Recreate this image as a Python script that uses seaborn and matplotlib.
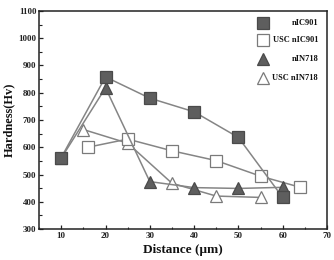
import numpy as np
import pandas as pd
import matplotlib
matplotlib.use("Agg")
import matplotlib.pyplot as plt
from matplotlib.ticker import MultipleLocator
import seaborn as sns

# ---- data ----
series_names = ["nIC901", "USC nIC901", "nIN718", "USC nIN718"]
nic901_x = [10, 20, 30, 40, 50, 60]
nic901_y = [562, 858, 780, 730, 636, 416]
usc_nic901_x = [16, 25, 35, 45, 55, 64]
usc_nic901_y = [600, 630, 587, 551, 494, 453]
nin718_x = [10, 20, 30, 40, 50, 60]
nin718_y = [560, 818, 474, 452, 449, 453]
usc_nin718_x = [15, 25, 35, 45, 55]
usc_nin718_y = [665, 615, 468, 421, 416]
x_ticks = [10, 20, 30, 40, 50, 60, 70]
y_ticks = [300, 400, 500, 600, 700, 800, 900, 1000, 1100]

frames = []
for name, xs, ys in [(series_names[0], nic901_x, nic901_y),
                     (series_names[1], usc_nic901_x, usc_nic901_y),
                     (series_names[2], nin718_x, nin718_y),
                     (series_names[3], usc_nin718_x, usc_nin718_y)]:
    frames.append(pd.DataFrame({"series": name, "Distance": xs, "Hardness": ys}))
df = pd.concat(frames, ignore_index=True)

sns.set_theme(style="white")
plt.rcParams['font.family'] = ['Liberation Serif', 'DejaVu Serif']

fig = plt.figure(figsize=(3.34, 2.60), dpi=100)
ax = fig.add_axes([0.117, 0.119, 0.862, 0.839])

line_col = "#858585"
fill_col = "#5e5e5e"
styles = {
    "nIC901": dict(marker="s", mfc=fill_col, mec="#4a4a4a"),
    "USC nIC901": dict(marker="s", mfc="white", mec="#7a7a7a"),
    "nIN718": dict(marker="^", mfc=fill_col, mec="#4a4a4a"),
    "USC nIN718": dict(marker="^", mfc="white", mec="#7a7a7a"),
}
order_draw = ["USC nIN718", "USC nIC901", "nIN718", "nIC901"]
for name in order_draw:
    st = styles[name]
    sub = df[df.series == name]
    sns.lineplot(data=sub, x="Distance", y="Hardness", ax=ax, color=line_col,
                 linewidth=1.1, marker=st["marker"], markersize=8.8,
                 markerfacecolor=st["mfc"], markeredgecolor=st["mec"],
                 markeredgewidth=0.9, legend=False, sort=False)

ax.set_xlim(5, 70)
ax.set_ylim(300, 1100)
ax.set_xticks(x_ticks)
ax.set_yticks(y_ticks)
ax.xaxis.set_minor_locator(MultipleLocator(5))
ax.yaxis.set_minor_locator(MultipleLocator(50))
ax.tick_params(axis="both", which="major", direction="in", length=3, width=0.9,
               labelsize=6.5, pad=2, top=False, right=False, bottom=True, left=True,
               colors="#222222")
ax.tick_params(axis="both", which="minor", direction="in", length=1.8, width=0.8,
               top=False, right=False, bottom=True, left=True, colors="#222222")
for lab in ax.get_xticklabels() + ax.get_yticklabels():
    lab.set_fontweight("bold")
for sp in ax.spines.values():
    sp.set_linewidth(1.1)
    sp.set_color("#222222")

ax.set_xlabel("Distance (μm)", fontsize=9.5, fontweight="bold", labelpad=3, color="#111111")
ax.set_ylabel("Hardness(Hv)", fontsize=9, fontweight="bold", labelpad=2, color="#111111")

# legend: markers on the left, labels right-aligned
leg_rows = [0.945, 0.868, 0.780, 0.694]
for name, yy in zip(series_names, leg_rows):
    st = styles[name]
    ax.plot([0.778], [yy], transform=ax.transAxes, linestyle="none",
            marker=st["marker"], markersize=8.8, markerfacecolor=st["mfc"],
            markeredgecolor=st["mec"], markeredgewidth=0.9, clip_on=False)
    ax.text(0.969, yy, name, transform=ax.transAxes, ha="right", va="center",
            fontsize=6, fontweight="bold", color="#111111")

fig.savefig("out.png", dpi=100)
